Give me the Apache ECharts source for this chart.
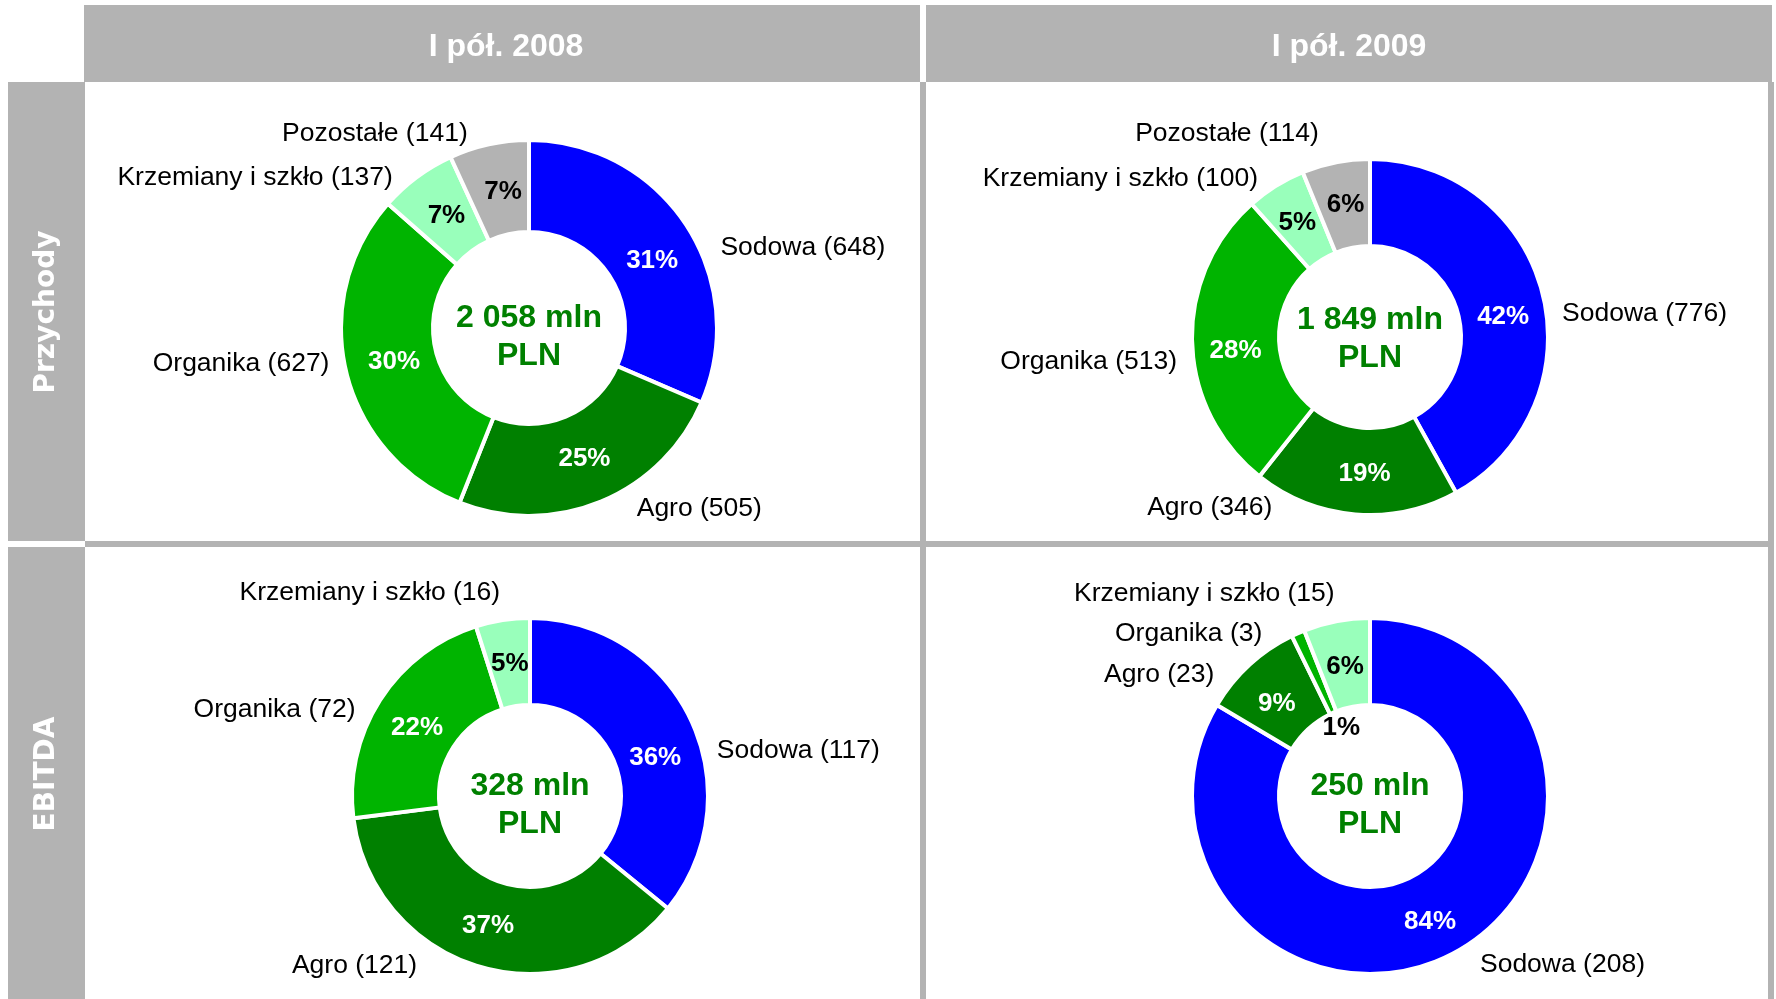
<!DOCTYPE html>
<html>
<head>
<meta charset="utf-8">
<title>Segmenty - przychody i EBITDA</title>
<script src="https://cdn.jsdelivr.net/npm/echarts@6/dist/echarts.min.js"></script>
<style>
    html, body { margin: 0; padding: 0; background: #fff; }
    #chart { width: 1776px; height: 999px; }
</style>
</head>
<body>
<div id="chart"></div>
<script>
"use strict";

// data
var segments = ['Sodowa', 'Agro', 'Organika', 'Krzemiany i szkło', 'Pozostałe'];
var periods = ['I pół. 2008', 'I pół. 2009'];
var rowNames = ['Przychody', 'EBITDA'];
var revenue2008 = [648, 505, 627, 137, 141];
var revenue2009 = [776, 346, 513, 100, 114];
var ebitda2008 = [117, 121, 72, 16];
var ebitda2009 = [208, 23, 3, 15];
var revenueTotals = [2058, 1849];
var ebitdaTotals = [328, 250];

// styling
var segColors = ['#0000ff', '#008000', '#00b400', '#99ffbb', '#b3b3b3'];
var pctColors = ['#ffffff', '#ffffff', '#ffffff', '#000000', '#000000'];
var grey = '#b3b3b3';
var font = '"Liberation Sans", Arial, sans-serif';

// layout of each cell; nudges are small label offsets (px) to follow the hand placed labels
var cells = [
    { values: revenue2008, total: revenueTotals[0], center: [529, 328], radius: [98, 186], textDy: 9,
      nameNudge: [[2, 28], [8, -2], [17, -10], [6, 9], [5, -1]],
      pctNudge: [[2, 12], [0, -3], [6, 0], [4, 4], [5, 5]] },
    { values: revenue2009, total: revenueTotals[1], center: [1370, 337], radius: [93, 176], textDy: 2,
      nameNudge: [[-14, 24], [-58, -17], [14, 19], [14, -3], [9, -19]],
      pctNudge: [[0, 14], [6, 0], [3, 10], [0, 3], [2, 3]] },
    { values: ebitda2008, total: ebitdaTotals[0], center: [530, 796], radius: [93, 176], textDy: 9,
      nameNudge: [[-7, 35], [-37, -11], [8, 15], [23, -18]],
      pctNudge: [[1, 21], [-4, -2], [3, 6], [1, 4]] },
    { values: ebitda2009, total: ebitdaTotals[1], center: [1370, 796], radius: [93, 176], textDy: 9,
      nameNudge: [[-7, 5], [3, 5], [18, -7], [24, -18]],
      pctNudge: [[-8, 6], [0, 9], [3, 3], [1, 6]] }
];

function sumOf(v) {
    return v.reduce(function (a, b) { return a + b; }, 0);
}

function fmtTotal(n) {
    return String(n).replace(/\B(?=(\d{3})+(?!\d))/g, ' ');
}

// % labels; very small slices get theirs moved into the hole
function pctLayout(cell) {
    return function (p) {
        var v = cell.values;
        var sum = sumOf(v);
        var n = cell.pctNudge[p.dataIndex];
        if (v[p.dataIndex] / sum >= 0.02) return { dx: n[0], dy: n[1] };
        var before = 0;
        for (var i = 0; i < p.dataIndex; i++) before += v[i];
        var ang = Math.PI / 2 - (before + v[p.dataIndex] / 2) / sum * 2 * Math.PI;
        var rr = cell.radius[0] * 0.84;
        return {
            x: cell.center[0] + rr * Math.cos(ang) + n[0],
            y: cell.center[1] - rr * Math.sin(ang) + n[1],
            align: 'center',
            verticalAlign: 'middle'
        };
    };
}

function nameLayout(cell) {
    return function (p) {
        var n = cell.nameNudge[p.dataIndex];
        return { dx: n[0], dy: n[1] };
    };
}

var series = [];
var graphics = [
    // table frame
    { type: 'rect', shape: { x: 84, y: 5, width: 836, height: 77 }, style: { fill: grey } },
    { type: 'rect', shape: { x: 926, y: 5, width: 846, height: 77 }, style: { fill: grey } },
    { type: 'rect', shape: { x: 8, y: 82, width: 77, height: 459 }, style: { fill: grey } },
    { type: 'rect', shape: { x: 8, y: 547, width: 77, height: 452 }, style: { fill: grey } },
    { type: 'rect', shape: { x: 920, y: 82, width: 6, height: 917 }, style: { fill: grey } },
    { type: 'rect', shape: { x: 85, y: 541, width: 1689, height: 6 }, style: { fill: grey } },
    { type: 'rect', shape: { x: 1768, y: 82, width: 6, height: 917 }, style: { fill: grey } }
];

periods.forEach(function (p, i) {
    graphics.push({
        type: 'text', x: i === 0 ? 506 : 1349, y: 47,
        style: {
            text: p, fill: '#fff', align: 'center', verticalAlign: 'middle',
            textAlign: 'center', textVerticalAlign: 'middle',
            font: 'bold 32px ' + font
        }
    });
});
rowNames.forEach(function (r, i) {
    graphics.push({
        type: 'text', x: 47, y: i === 0 ? 312 : 774, rotation: Math.PI / 2,
        style: {
            text: r, fill: '#fff', align: 'center', verticalAlign: 'middle',
            textAlign: 'center', textVerticalAlign: 'middle',
            font: 'bold 28px "DejaVu Sans", sans-serif'
        }
    });
});

cells.forEach(function (cell) {
    var sum = sumOf(cell.values);
    var ringData = cell.values.map(function (v, i) {
        return {
            name: segments[i], value: v,
            itemStyle: { color: segColors[i] },
            label: { color: v / sum < 0.02 ? '#000' : pctColors[i] }
        };
    });
    // ring with % inside
    series.push({
        type: 'pie',
        center: cell.center,
        radius: [cell.radius[0] - 2, cell.radius[1] + 2],
        startAngle: 90,
        clockwise: true,
        percentPrecision: 0,
        avoidLabelOverlap: false,
        itemStyle: { borderColor: '#fff', borderWidth: 4 },
        label: { position: 'inside', formatter: '{d}%', fontSize: 26, fontWeight: 'bold', fontFamily: font },
        labelLine: { show: false },
        labelLayout: pctLayout(cell),
        emphasis: { disabled: true },
        data: ringData
    });
    // same ring, invisible, carrying the name labels outside
    series.push({
        type: 'pie',
        center: cell.center,
        radius: cell.radius,
        startAngle: 90,
        clockwise: true,
        silent: true,
        z: 3,
        itemStyle: { color: 'rgba(0,0,0,0)', borderWidth: 0 },
        label: {
            position: 'outside', formatter: '{b} ({c})',
            fontSize: 26.5, color: '#000', fontFamily: font
        },
        labelLine: { show: false, length: 12, length2: 19 },
        labelLayout: nameLayout(cell),
        emphasis: { disabled: true },
        data: cell.values.map(function (v, i) { return { name: segments[i], value: v }; })
    });
    graphics.push({
        type: 'text', x: cell.center[0], y: cell.center[1] + cell.textDy, z: 10,
        style: {
            text: fmtTotal(cell.total) + ' mln\nPLN', fill: '#008000',
            align: 'center', verticalAlign: 'middle',
            textAlign: 'center', textVerticalAlign: 'middle',
            font: 'bold 32px ' + font, lineHeight: 38
        }
    });
});

var chart = echarts.init(document.getElementById('chart'));
chart.setOption({
    animation: false,
    backgroundColor: '#fff',
    textStyle: { fontFamily: font },
    graphic: { elements: graphics },
    series: series
});
window.addEventListener('resize', function () { chart.resize(); });
</script>
</body>
</html>
